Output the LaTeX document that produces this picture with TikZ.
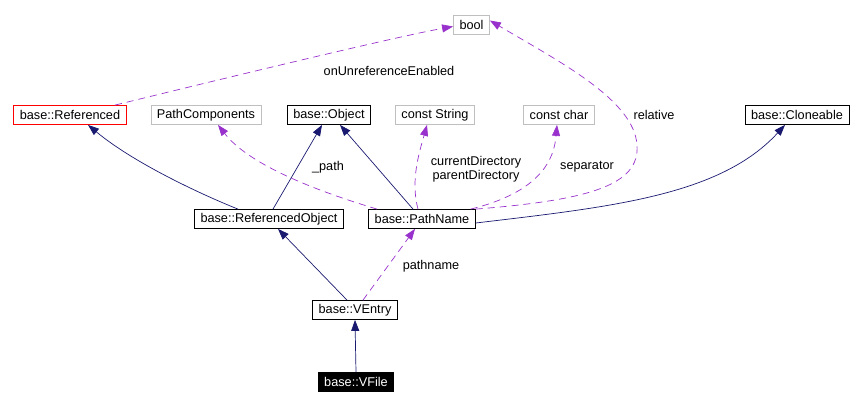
\documentclass[tikz,border=0pt]{standalone}
\usepackage{fontspec}
\setmainfont{Liberation Sans}
\usetikzlibrary{arrows.meta}
\definecolor{cgnavy}{RGB}{25,25,112}
\definecolor{cgorchid}{RGB}{153,50,204}
\definecolor{cggray}{RGB}{191,191,191}
\begin{document}
\begin{tikzpicture}[
   x=1pt,y=-1pt,
   cgclass/.style={draw,line width=0.8pt,minimum height=19pt,inner xsep=6pt,
     inner ysep=1pt,font=\fontsize{12.7}{14}\selectfont},
   cgextern/.style={cgclass,draw=cggray},
   cgroot/.style={cgclass,draw=red},
   cgfocus/.style={cgclass,fill=black,text=white},
   cginherit/.style={-{Triangle[length=11pt,width=8pt,fill=cgnavy]},draw=cgnavy,
     line width=0.7pt},
   cgusage/.style={-{Triangle[length=11pt,width=8pt,fill=cgorchid]},draw=cgorchid,
     line width=0.7pt,dash pattern=on 7pt off 5pt},
   cglabel/.style={font=\fontsize{12.7}{14}\selectfont,align=center,inner sep=0pt}
 ]
 \useasboundingbox (0,0) rectangle (862,406);
 % top row: bases and member types
 \node[cgextern] (bool) at (471.5,24.5) {bool};
 \node[cgroot] (ref) at (70,115) {base::Referenced};
 \node[cgextern] (pcomp) at (206,115) {PathComponents};
 \node[cgclass] (obj) at (329,115) {base::Object};
 \node[cgextern] (cstr) at (435,115) {const String};
 \node[cgextern] (cchar) at (559,115) {const char};
 \node[cgclass] (clone) at (797,115) {base::Cloneable};
 % middle and bottom rows
 \node[cgclass] (robj) at (269,219) {base::ReferencedObject};
 \node[cgclass] (pname) at (422,219) {base::PathName};
 \node[cgclass] (ventry) at (355,310) {base::VEntry};
 \node[cgfocus] (vfile) at (356,382) {base::VFile};
 % inheritance
 \draw[cginherit] ([xshift=-31pt]robj.north) .. controls (205,196) and (135,164)
   .. ([xshift=18pt]ref.south);
 \draw[cginherit] ([xshift=4pt]robj.north) -- ([xshift=-7pt]obj.south);
 \draw[cginherit] ([xshift=-9pt]pname.north) -- ([xshift=11pt]obj.south);
 \draw[cginherit] ([yshift=-4pt]pname.east) .. controls (610,207) and (720,196)
   .. ([xshift=-12pt]clone.south);
 \draw[cginherit] ([xshift=-8pt]ventry.north) -- ([xshift=9pt]robj.south);
 \draw[cginherit] (vfile.north) -- (ventry.south);
 % usage
 \draw[cgusage] ([xshift=45pt]ref.north) .. controls (250,72) and (400,36)
   .. ([yshift=-2pt]bool.west);
 \draw[cgusage] ([xshift=-45pt]pname.north) .. controls (320,192) and (250,166)
   .. ([xshift=12pt]pcomp.south);
 \draw[cgusage] ([xshift=-4pt]pname.north) .. controls (410,180) and (420,150)
   .. ([xshift=-8pt]cstr.south);
 \draw[cgusage] ([xshift=-5pt]pname.north east) .. controls (540,192) and (554,160)
   .. ([xshift=-2pt]cchar.south);
 \draw[cgusage] (pname.north east) .. controls (590,200) and (640,185) .. (637,145)
   .. controls (634,100) and (560,62) .. ([yshift=4pt]bool.east);
 \draw[cgusage] ([xshift=8pt]ventry.north) -- ([xshift=-7pt]pname.south);
 % member names
 \node[cglabel] (lunref) at (389,71) {onUnreferenceEnabled};
 \node[cglabel] (lpath) at (328,167) {\_path};
 \node[cglabel] (ldirs) at (476,169) {currentDirectory\\parentDirectory};
 \node[cglabel] (lsep) at (587,167) {separator};
 \node[cglabel] (lrel) at (654,115) {relative};
 \node[cglabel] (lpname) at (431,266) {pathname};
\end{tikzpicture}
\end{document}
